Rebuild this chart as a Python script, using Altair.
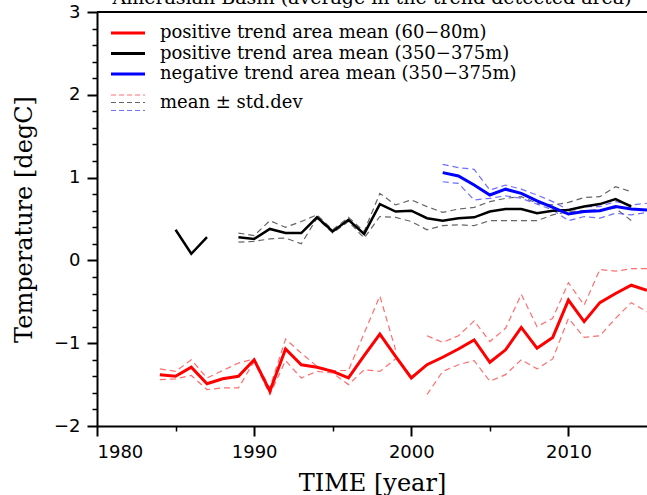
import altair as alt
import pandas as pd

years = list(range(1984, 2016))

# positive trend area mean (60-80m), red
red_mean = [-1.38, -1.40, -1.29, -1.49, -1.43, -1.40, -1.20, -1.58, -1.07, -1.26,
            -1.29, -1.34, -1.42, -1.15, -0.89, -1.16, -1.42, -1.26, -1.17, -1.07,
            -0.96, -1.23, -1.08, -0.81, -1.06, -0.93, -0.48, -0.74, -0.51, -0.40,
            -0.30, -0.36]
red_upper = [-1.31, -1.34, -1.20, -1.42, -1.33, -1.24, -1.19, -1.54, -0.95, -1.12,
             -1.28, -1.33, -1.33, -0.88, -0.43, -1.08, None, -0.91, -0.99, -0.91,
             -0.73, -0.98, -0.82, -0.41, -0.80, -0.70, -0.27, -0.54, -0.11, -0.13,
             -0.10, -0.10]
red_lower = [-1.44, -1.43, -1.39, -1.56, -1.54, -1.54, -1.22, -1.62, -1.21, -1.42,
             -1.34, -1.36, -1.50, -1.32, -1.34, -1.19, None, -1.62, -1.34, -1.26,
             -1.21, -1.46, -1.38, -1.20, -1.31, -1.19, -0.70, -0.93, -0.91, -0.70,
             -0.51, -0.62]

# positive trend area mean (350-375m), black
black_mean = [None, 0.37, 0.08, 0.28, None, 0.28, 0.26, 0.38, 0.33, 0.33,
              0.52, 0.35, 0.49, 0.32, 0.68, 0.59, 0.60, 0.51, 0.48, 0.51,
              0.52, 0.59, 0.62, 0.62, 0.57, 0.60, 0.61, 0.65, 0.68, 0.74,
              0.65, None]
black_upper = [None, None, None, None, None, 0.33, 0.30, 0.48, 0.40, 0.47,
               0.55, 0.37, 0.52, 0.35, 0.81, 0.67, 0.73, 0.65, 0.58, 0.62,
               0.64, 0.71, 0.75, 0.77, 0.69, 0.67, 0.70, 0.76, 0.77, 0.89,
               0.83, None]
black_lower = [None, None, None, None, None, 0.22, 0.23, 0.26, 0.27, 0.20,
               0.51, 0.33, 0.47, 0.27, 0.53, 0.52, 0.47, 0.37, 0.42, 0.43,
               0.42, 0.48, 0.48, 0.48, 0.48, 0.55, 0.59, 0.60, 0.61, 0.63,
               0.48, None]

# negative trend area mean (350-375m), blue (2002-2015)
blue_mean = [None] * 18 + [1.06, 1.02, 0.91, 0.79, 0.86, 0.81, 0.72, 0.64, 0.56,
                           0.59, 0.60, 0.65, 0.62, 0.61]
blue_upper = [None] * 18 + [1.16, 1.12, 1.10, 0.85, 0.91, 0.86, 0.79, 0.71, 0.61,
                            0.65, 0.65, 0.71, 0.67, 0.69]
blue_lower = [None] * 18 + [0.95, 0.93, 0.73, 0.75, 0.78, 0.75, 0.68, 0.61, 0.48,
                            0.53, 0.51, 0.57, 0.55, 0.58]

legend_labels = ["positive trend area mean (60\u221280m)",
                 "positive trend area mean (350\u2212375m)",
                 "negative trend area mean (350\u2212375m)"]
std_label = "mean \u00b1 std.dev"
title_text = "Amerasian Basin (average in the trend detected area)"

x_major = [1980, 1990, 2000, 2010]
x_minor = [1985, 1995, 2005]
y_major = [-2, -1, 0, 1, 2, 3]
y_minor = [-1.8, -1.6, -1.4, -1.2, -0.8, -0.6, -0.4, -0.2, 0.2, 0.4, 0.6, 0.8,
           1.2, 1.4, 1.6, 1.8, 2.2, 2.4, 2.6, 2.8]

W, H = 550, 414
XS = alt.Scale(domain=[1980, 2015], nice=False, zero=False)
YS = alt.Scale(domain=[-2, 3], nice=False, zero=False)


def to_df(vals):
    rows, seg, prev = [], 0, False
    for yr, v in zip(years, vals):
        if v is None:
            if prev:
                seg += 1
            prev = False
            continue
        rows.append({"year": yr, "value": v, "seg": seg})
        prev = True
    return pd.DataFrame(rows)


def line_layer(vals, color, width, dash=None, opacity=1.0):
    kw = dict(color=color, strokeWidth=width, opacity=opacity, clip=True)
    if dash:
        kw["strokeDash"] = dash
    return alt.Chart(to_df(vals)).mark_line(**kw).encode(
        x=alt.X("year:Q", scale=XS, axis=None),
        y=alt.Y("value:Q", scale=YS, axis=None),
        detail="seg:N",
    )


DASH = [6, 4]
layers = []
for vals in [red_upper, red_lower]:
    layers.append(line_layer(vals, "#ff3030", 1.2, DASH, 0.7))
for vals in [black_upper, black_lower]:
    layers.append(line_layer(vals, "#333333", 1.2, DASH, 0.75))
for vals in [blue_upper, blue_lower]:
    layers.append(line_layer(vals, "#3030ff", 1.2, DASH, 0.7))
layers.append(line_layer(red_mean, "#ff0000", 3))
layers.append(line_layer(black_mean, "#000000", 2.5))
layers.append(line_layer(blue_mean, "#0000ff", 3))

# major axes
axis_common = dict(domainColor="black", domainWidth=2, tickColor="black", tickWidth=2,
                   tickSize=10, labelColor="black", labelFont="DejaVu Sans",
                   labelFontSize=18, labelPadding=7, grid=False,
                   titleFont="DejaVu Serif", titleFontSize=24, titleFontWeight="normal",
                   titleColor="black")
major = alt.Chart(pd.DataFrame({"year": [1980], "value": [-2]})).mark_point(opacity=0).encode(
    x=alt.X("year:Q", scale=XS, axis=alt.Axis(orient="bottom", values=x_major, format="d",
                                              title="TIME [year]", titleY=57,
                                              titleBaseline="middle", **axis_common)),
    y=alt.Y("value:Q", scale=YS, axis=alt.Axis(orient="left", values=y_major, format="d",
                                               title="Temperature [degC]", titleX=-73,
                                               titleBaseline="middle", **axis_common)),
)
minor_common = dict(domain=False, labels=False, ticks=True, tickSize=5, tickWidth=1.5,
                    tickColor="black", grid=False, title=None)
minor = alt.Chart(pd.DataFrame({"year": [1980], "value": [-2]})).mark_point(opacity=0).encode(
    x=alt.X("year:Q", scale=XS, axis=alt.Axis(orient="bottom", values=x_minor, **minor_common)),
    y=alt.Y("value:Q", scale=YS, axis=alt.Axis(orient="left", values=y_minor, **minor_common)),
)

one = pd.DataFrame({"a": [0]})
top_frame = alt.Chart(one).mark_rule(color="black", strokeWidth=2).encode(
    x=alt.value(0), x2=alt.value(W), y=alt.value(0))

title = alt.Chart(pd.DataFrame({"t": [title_text]})).mark_text(
    font="DejaVu Serif", fontSize=19, baseline="alphabetic", align="center", color="black"
).encode(text="t:N", x=alt.value(W / 2), y=alt.value(-8))

# legend
leg = []
row_y = [21, 41.5, 62]
for lab, col, y in zip(legend_labels, ["#ff0000", "#000000", "#0000ff"], row_y):
    leg.append(alt.Chart(one).mark_rule(color=col, strokeWidth=3).encode(
        x=alt.value(14), x2=alt.value(48), y=alt.value(y)))
    leg.append(alt.Chart(pd.DataFrame({"t": [lab]})).mark_text(
        font="DejaVu Serif", fontSize=18, align="left", baseline="middle", color="black"
    ).encode(text="t:N", x=alt.value(63), y=alt.value(y)))
for col, y, op in zip(["#ff3030", "#333333", "#3030ff"], [83, 90.5, 98.5], [0.7, 0.75, 0.7]):
    leg.append(alt.Chart(one).mark_rule(color=col, strokeWidth=1.2, strokeDash=[5, 3],
                                        opacity=op).encode(
        x=alt.value(14), x2=alt.value(48), y=alt.value(y)))
leg.append(alt.Chart(pd.DataFrame({"t": [std_label]})).mark_text(
    font="DejaVu Serif", fontSize=18, align="left", baseline="middle", color="black"
).encode(text="t:N", x=alt.value(63), y=alt.value(90.5)))

chart = alt.layer(major, minor, *layers, top_frame, title, *leg).resolve_axis(
    x="independent", y="independent"
).properties(
    width=W, height=H,
    autosize=alt.AutoSizeParams(type="none"),
    padding={"left": 97, "top": 12, "right": 0, "bottom": 69},
    background="white",
).configure_view(stroke=None)

chart.save("out.html", embed_options={"renderer": "svg", "actions": False})
